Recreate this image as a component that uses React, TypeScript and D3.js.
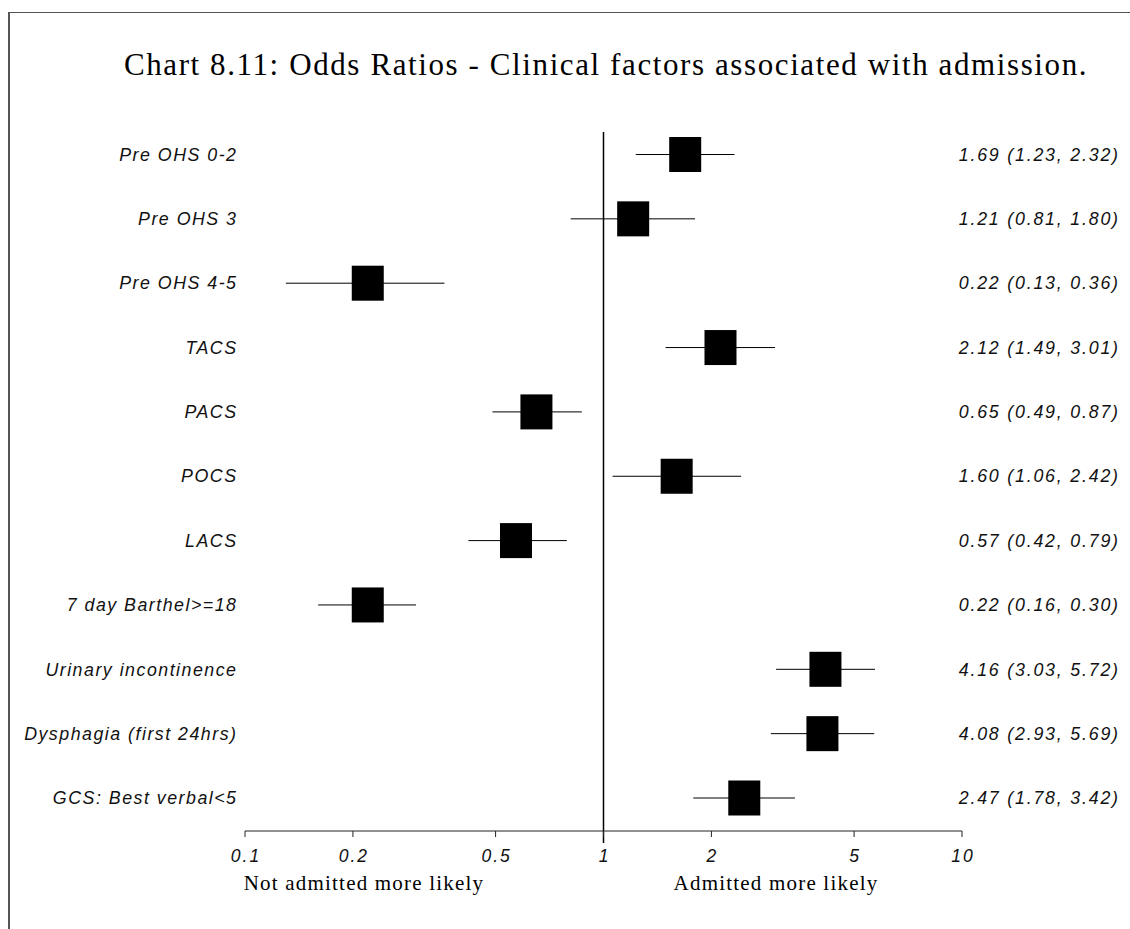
import React from "react";
import * as d3 from "d3";

const categories = [
  "Pre OHS 0-2",
  "Pre OHS 3",
  "Pre OHS 4-5",
  "TACS",
  "PACS",
  "POCS",
  "LACS",
  "7 day Barthel>=18",
  "Urinary incontinence",
  "Dysphagia (first 24hrs)",
  "GCS: Best verbal<5",
];
const oddsRatios = [1.69, 1.21, 0.22, 2.12, 0.65, 1.6, 0.57, 0.22, 4.16, 4.08, 2.47];
const lowerCI = [1.23, 0.81, 0.13, 1.49, 0.49, 1.06, 0.42, 0.16, 3.03, 2.93, 1.78];
const upperCI = [2.32, 1.8, 0.36, 3.01, 0.87, 2.42, 0.79, 0.3, 5.72, 5.69, 3.42];
const tickValues = [0.1, 0.2, 0.5, 1, 2, 5, 10];
const tickLabels = ["0.1", "0.2", "0.5", "1", "2", "5", "10"];

const W = 1130;
const H = 929;

export default function App() {
  const x = d3.scaleLog().domain([0.1, 10]).range([245, 962]);
  const y = d3
    .scalePoint<string>()
    .domain(categories)
    .range([154.5, 798]);
  const axisY = 831;
  const sqW = 32;
  const sqH = 35;
  const sans = "Liberation Sans, Arial, sans-serif";
  const serif = "Liberation Serif, Times New Roman, serif";
  const fmt = d3.format(".2f");
  const lsL = 1.5;
  const lsR = 1.8;

  return (
    <svg
      width={W}
      height={H}
      style={{ position: "absolute", left: 0, top: 0, background: "#fff" }}
    >
      <rect x={0} y={0} width={W} height={H} fill="#fff" />
      {/* frame */}
      <line x1={8} x2={W} y1={12.5} y2={12.5} stroke="#555" strokeWidth={1} />
      <line x1={9} x2={9} y1={12} y2={H} stroke="#555" strokeWidth={2} />

      <text
        x={606}
        y={75}
        textAnchor="middle"
        fontFamily={serif}
        fontSize={31}
        letterSpacing={1.6}
        fill="#000"
      >
        Chart 8.11: Odds Ratios - Clinical factors associated with admission.
      </text>

      {/* reference line */}
      <line
        x1={x(1)}
        x2={x(1)}
        y1={132}
        y2={843}
        stroke="#000"
        strokeWidth={1.5}
      />

      {categories.map((c, i) => {
        const cy = y(c)!;
        return (
          <g key={c}>
            <line
              x1={x(lowerCI[i])}
              x2={x(upperCI[i])}
              y1={cy}
              y2={cy}
              stroke="#000"
              strokeWidth={1}
            />
            <rect
              x={x(oddsRatios[i]) - sqW / 2}
              y={cy - sqH / 2}
              width={sqW}
              height={sqH}
              fill="#000"
            />
            <text
              x={236 + lsL}
              y={cy}
              dy="0.35em"
              textAnchor="end"
              fontFamily={sans}
              fontStyle="italic"
              fontSize={17.8}
              letterSpacing={lsL}
              fill="#111"
            >
              {c}
            </text>
            <text
              x={1118 + lsR}
              y={cy}
              dy="0.35em"
              textAnchor="end"
              fontFamily={sans}
              fontStyle="italic"
              fontSize={17.8}
              letterSpacing={lsR}
              fill="#111"
            >
              {`${fmt(oddsRatios[i])} (${fmt(lowerCI[i])}, ${fmt(upperCI[i])})`}
            </text>
          </g>
        );
      })}

      {/* axis */}
      <line
        x1={x(0.1)}
        x2={x(10)}
        y1={axisY}
        y2={axisY}
        stroke="#222"
        strokeWidth={1}
      />
      {tickValues.map((t, i) => (
        <g key={t}>
          <line
            x1={x(t)}
            x2={x(t)}
            y1={axisY}
            y2={axisY + 6}
            stroke="#222"
            strokeWidth={1}
          />
          <text
            x={x(t) + 1}
            y={axisY + 31}
            textAnchor="middle"
            fontFamily={sans}
            fontStyle="italic"
            fontSize={17.5}
            letterSpacing={2}
            fill="#111"
          >
            {tickLabels[i]}
          </text>
        </g>
      ))}

      <text
        x={364}
        y={890}
        textAnchor="middle"
        fontFamily={serif}
        fontSize={21}
        letterSpacing={1.2}
        fill="#000"
      >
        Not admitted more likely
      </text>
      <text
        x={776}
        y={890}
        textAnchor="middle"
        fontFamily={serif}
        fontSize={21}
        letterSpacing={1.2}
        fill="#000"
      >
        Admitted more likely
      </text>
    </svg>
  );
}
